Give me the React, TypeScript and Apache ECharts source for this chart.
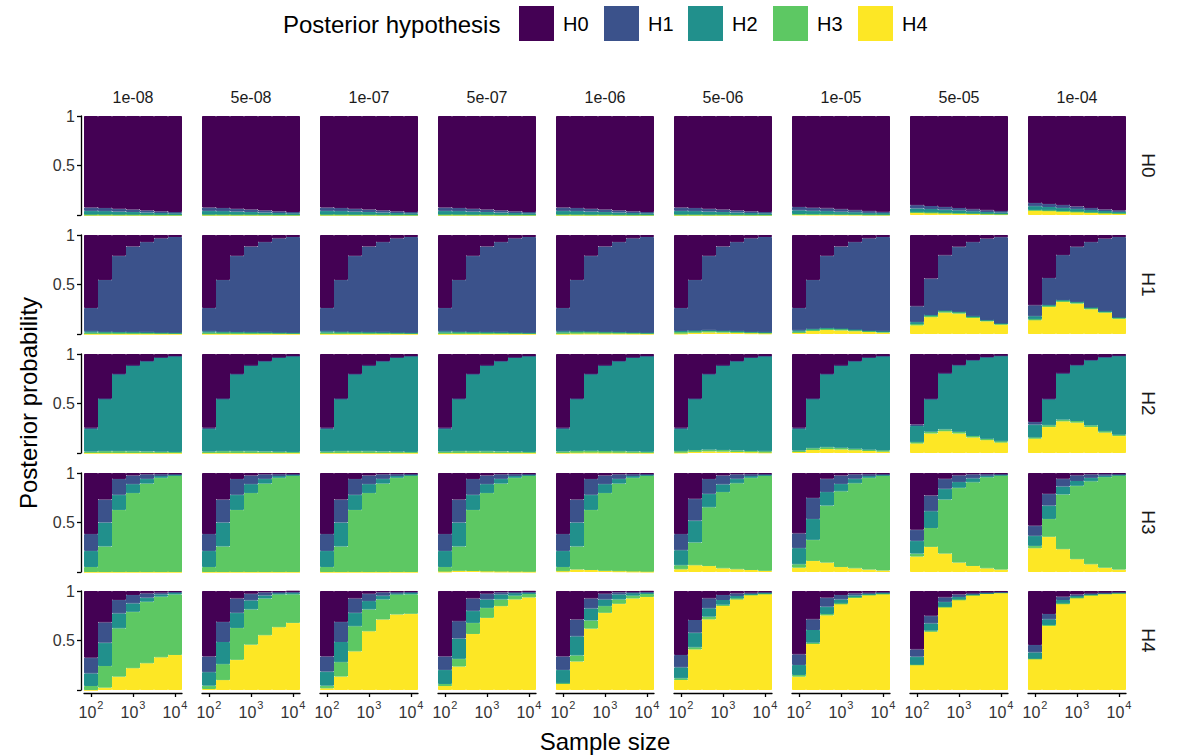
import React, { useEffect, useRef } from "react";
import * as echarts from "echarts";

// ---------- labels ----------
const priorLabels = ["1e-08", "5e-08", "1e-07", "5e-07", "1e-06", "5e-06", "1e-05", "5e-05", "1e-04"];
const trueHypotheses = ["H0", "H1", "H2", "H3", "H4"];
const posteriorHypotheses = ["H0", "H1", "H2", "H3", "H4"];
const sampleSizes = [100, 215, 464, 1000, 2154, 4642, 10000];
const xTickLog10 = [2, 3, 4];
const colors = ["#440154", "#3B528B", "#21908C", "#5DC863", "#FDE725"];

// ---------- data: [prior column][sample size] ----------
// true H0
const T0_H0 = [
  [.925, .930, .937, .945, .955, .964, .970],
  [.925, .930, .937, .945, .955, .964, .970],
  [.925, .930, .937, .945, .955, .964, .970],
  [.925, .930, .937, .945, .955, .964, .970],
  [.925, .930, .937, .945, .955, .964, .970],
  [.925, .930, .937, .945, .955, .964, .970],
  [.920, .926, .933, .942, .952, .962, .968],
  [.901, .909, .918, .929, .942, .953, .961],
  [.878, .888, .900, .914, .930, .944, .954],
];
const T0_H1 = Array.from({ length: 9 }, () => [.033, .031, .028, .024, .020, .016, .013]);
const T0_H2 = Array.from({ length: 9 }, () => [.037, .034, .031, .027, .022, .018, .015]);
const T0_H3 = Array.from({ length: 9 }, () => [.005, .005, .004, .004, .003, .002, .002]);
const T0_H4 = [
  [0, 0, 0, 0, 0, 0, 0],
  [0, 0, 0, 0, 0, 0, 0],
  [0, 0, 0, 0, 0, 0, 0],
  [0, 0, 0, 0, 0, 0, 0],
  [0, 0, 0, 0, 0, 0, 0],
  [0, 0, 0, 0, 0, 0, 0],
  [.005, .004, .004, .003, .003, .002, .002],
  [.024, .021, .019, .016, .013, .011, .009],
  [.047, .042, .037, .031, .025, .020, .016],
];

// true H1
const T1_H0 = [
  [.737, .454, .210, .116, .072, .034, .020],
  [.737, .454, .210, .116, .072, .034, .020],
  [.737, .454, .210, .116, .072, .034, .020],
  [.737, .454, .210, .116, .072, .034, .020],
  [.737, .454, .210, .116, .072, .034, .020],
  [.737, .454, .210, .116, .072, .034, .020],
  [.737, .454, .210, .116, .072, .034, .020],
  [.720, .440, .205, .118, .072, .036, .022],
  [.710, .435, .203, .118, .072, .036, .021],
];
const T1_H1 = [
  [.236, .523, .769, .865, .911, .952, .968],
  [.236, .523, .769, .865, .911, .952, .968],
  [.236, .523, .769, .865, .911, .952, .968],
  [.236, .523, .769, .865, .911, .952, .968],
  [.235, .520, .765, .862, .908, .950, .967],
  [.232, .511, .753, .851, .900, .944, .962],
  [.226, .493, .729, .829, .883, .932, .953],
  [.160, .368, .558, .657, .749, .822, .871],
  [.110, .271, .453, .557, .661, .734, .812],
];
const T1_H2 = [
  [.012, .005, .003, .002, .002, .001, .001],
  [.012, .005, .003, .002, .002, .001, .001],
  [.012, .005, .003, .002, .002, .001, .001],
  [.012, .005, .003, .002, .002, .001, .001],
  [.012, .005, .003, .002, .002, .001, .001],
  [.012, .005, .003, .002, .002, .001, .001],
  [.012, .005, .003, .002, .002, .001, .001],
  [.020, .004, .003, .002, .002, .001, .001],
  [.030, .004, .003, .002, .002, .001, .001],
];
const T1_H3 = [
  [.015, .018, .018, .017, .015, .013, .011],
  [.015, .018, .018, .017, .015, .013, .011],
  [.015, .018, .018, .017, .015, .013, .011],
  [.015, .018, .018, .017, .015, .013, .011],
  [.015, .018, .018, .017, .015, .013, .011],
  [.015, .018, .018, .017, .015, .013, .011],
  [.015, .018, .018, .017, .015, .013, .011],
  [.012, .018, .018, .017, .015, .013, .011],
  [.010, .016, .017, .016, .015, .013, .011],
];
const T1_H4 = [
  [0, 0, 0, 0, 0, 0, 0],
  [0, 0, 0, 0, 0, 0, 0],
  [0, 0, 0, 0, 0, 0, 0],
  [0, 0, 0, 0, 0, 0, 0],
  [.001, .003, .004, .003, .003, .002, .001],
  [.004, .012, .016, .014, .011, .008, .006],
  [.010, .030, .040, .036, .028, .020, .015],
  [.088, .170, .216, .206, .162, .128, .095],
  [.140, .274, .324, .307, .250, .216, .155],
];

// true H2
const T2_H0 = [
  [.745, .450, .200, .115, .070, .035, .020],
  [.745, .450, .200, .115, .070, .035, .020],
  [.745, .450, .200, .115, .070, .035, .020],
  [.745, .450, .200, .115, .070, .035, .020],
  [.745, .450, .200, .115, .070, .035, .020],
  [.745, .450, .200, .115, .070, .035, .020],
  [.745, .450, .200, .115, .070, .035, .020],
  [.712, .452, .194, .110, .060, .030, .017],
  [.686, .452, .194, .110, .060, .030, .017],
];
const T2_H1 = [
  [.012, .004, .003, .002, .002, .001, .001],
  [.012, .004, .003, .002, .002, .001, .001],
  [.012, .004, .003, .002, .002, .001, .001],
  [.012, .004, .003, .002, .002, .001, .001],
  [.012, .004, .003, .002, .002, .001, .001],
  [.012, .004, .003, .002, .002, .001, .001],
  [.012, .004, .003, .002, .002, .001, .001],
  [.015, .004, .003, .002, .002, .001, .001],
  [.027, .004, .003, .002, .002, .001, .001],
];
const T2_H2 = [
  [.229, .528, .779, .866, .913, .951, .968],
  [.229, .528, .779, .866, .913, .951, .968],
  [.229, .528, .779, .866, .913, .951, .968],
  [.229, .528, .779, .866, .913, .951, .968],
  [.228, .525, .775, .863, .910, .949, .967],
  [.225, .516, .763, .852, .902, .943, .962],
  [.219, .498, .739, .830, .885, .931, .953],
  [.164, .329, .565, .674, .766, .826, .864],
  [.130, .264, .466, .565, .659, .749, .797],
];
const T2_H3 = [
  [.014, .018, .018, .017, .015, .013, .011],
  [.014, .018, .018, .017, .015, .013, .011],
  [.014, .018, .018, .017, .015, .013, .011],
  [.014, .018, .018, .017, .015, .013, .011],
  [.014, .018, .018, .017, .015, .013, .011],
  [.014, .018, .018, .017, .015, .013, .011],
  [.014, .018, .018, .017, .015, .013, .011],
  [.012, .018, .018, .017, .015, .013, .011],
  [.010, .016, .017, .016, .015, .013, .011],
];
const T2_H4 = [
  [0, 0, 0, 0, 0, 0, 0],
  [0, 0, 0, 0, 0, 0, 0],
  [0, 0, 0, 0, 0, 0, 0],
  [0, 0, 0, 0, 0, 0, 0],
  [.001, .003, .004, .003, .003, .002, .001],
  [.004, .012, .016, .014, .011, .008, .006],
  [.010, .030, .040, .036, .028, .020, .015],
  [.097, .197, .220, .197, .157, .130, .107],
  [.147, .264, .320, .307, .264, .207, .174],
];

// true H3
const T3_H0 = [
  [.617, .268, .060, .025, .014, .012, .012],
  [.617, .268, .060, .025, .014, .012, .012],
  [.617, .268, .060, .025, .014, .012, .012],
  [.617, .268, .060, .025, .014, .012, .012],
  [.617, .268, .060, .025, .014, .012, .012],
  [.617, .260, .060, .025, .014, .012, .012],
  [.610, .251, .058, .025, .014, .012, .012],
  [.573, .227, .058, .024, .014, .012, .012],
  [.532, .210, .058, .024, .014, .012, .012],
];
const T3_H1 = [
  [.170, .232, .160, .088, .045, .018, .007],
  [.170, .232, .160, .088, .045, .018, .007],
  [.170, .232, .160, .088, .045, .018, .007],
  [.170, .232, .160, .088, .045, .018, .007],
  [.170, .232, .160, .088, .045, .018, .007],
  [.163, .221, .150, .090, .044, .018, .007],
  [.149, .213, .135, .085, .044, .018, .007],
  [.112, .159, .101, .068, .040, .016, .006],
  [.102, .119, .078, .057, .035, .015, .006],
];
const T3_H2 = [
  [.163, .242, .153, .090, .048, .018, .007],
  [.163, .242, .153, .090, .048, .018, .007],
  [.163, .242, .153, .090, .048, .018, .007],
  [.163, .242, .153, .090, .048, .018, .007],
  [.163, .242, .153, .090, .048, .018, .007],
  [.152, .221, .136, .078, .046, .018, .007],
  [.163, .211, .136, .075, .046, .018, .007],
  [.129, .170, .109, .057, .040, .016, .006],
  [.102, .135, .081, .048, .035, .015, .006],
];
const T3_H3 = [
  [.050, .258, .627, .797, .893, .952, .974],
  [.050, .258, .627, .797, .893, .952, .974],
  [.050, .258, .627, .797, .893, .952, .974],
  [.046, .246, .617, .791, .889, .949, .972],
  [.042, .233, .607, .785, .885, .947, .971],
  [.041, .230, .594, .770, .869, .932, .962],
  [.034, .213, .576, .765, .859, .928, .959],
  [.030, .190, .546, .756, .845, .919, .952],
  [.024, .180, .553, .742, .838, .914, .952],
];
const T3_H4 = [
  [0, 0, 0, 0, 0, 0, 0],
  [0, 0, 0, 0, 0, 0, 0],
  [0, 0, 0, 0, 0, 0, 0],
  [.004, .012, .010, .006, .004, .003, .002],
  [.008, .025, .020, .012, .008, .005, .003],
  [.027, .068, .060, .037, .027, .020, .012],
  [.044, .112, .095, .050, .037, .024, .015],
  [.156, .254, .186, .095, .061, .037, .024],
  [.240, .356, .230, .129, .078, .044, .024],
];

// true H4
const T4_H0 = [
  [.673, .317, .090, .040, .024, .017, .010],
  [.661, .312, .075, .027, .014, .012, .007],
  [.661, .312, .075, .027, .014, .012, .010],
  [.661, .305, .075, .027, .014, .012, .008],
  [.661, .288, .075, .027, .014, .012, .008],
  [.646, .293, .074, .040, .024, .017, .012],
  [.640, .286, .067, .040, .024, .017, .012],
  [.590, .250, .064, .035, .024, .014, .010],
  [.545, .232, .057, .035, .024, .017, .012],
];
const T4_H1 = [
  [.159, .205, .136, .085, .043, .017, .010],
  [.159, .203, .145, .068, .031, .010, .010],
  [.153, .203, .145, .075, .033, .012, .010],
  [.136, .175, .125, .058, .020, .010, .008],
  [.136, .170, .101, .058, .020, .010, .008],
  [.125, .128, .101, .051, .027, .010, .006],
  [.107, .108, .091, .045, .020, .010, .006],
  [.073, .077, .046, .025, .008, .005, .003],
  [.075, .054, .034, .016, .008, .005, .004],
];
const T4_H2 = [
  [.128, .236, .151, .085, .041, .023, .015],
  [.136, .224, .153, .091, .031, .012, .017],
  [.142, .204, .136, .084, .038, .010, .014],
  [.142, .205, .122, .085, .051, .025, .015],
  [.135, .193, .122, .068, .051, .025, .014],
  [.111, .148, .084, .047, .023, .008, .007],
  [.101, .128, .074, .040, .018, .009, .008],
  [.081, .073, .050, .025, .008, .005, .004],
  [.064, .057, .034, .015, .008, .005, .004],
];
const T4_H3 = [
  [.040, .218, .488, .570, .622, .613, .611],
  [.034, .161, .322, .356, .371, .332, .288],
  [.027, .145, .254, .221, .203, .203, .196],
  [.021, .078, .112, .101, .068, .038, .034],
  [.000, .061, .082, .067, .044, .028, .030],
  [.017, .021, .027, .012, .010, .005, .005],
  [.017, .013, .014, .006, .005, .004, .004],
  [.000, .010, .000, .005, .000, .000, .000],
  [.000, .007, .005, .004, .000, .000, .000],
];
const T4_H4 = [
  [.000, .024, .135, .220, .270, .330, .354],
  [.010, .100, .305, .458, .553, .634, .678],
  [.017, .136, .390, .593, .712, .763, .770],
  [.040, .237, .566, .729, .847, .915, .935],
  [.068, .288, .620, .780, .871, .925, .940],
  [.101, .410, .714, .850, .916, .960, .970],
  [.135, .465, .754, .869, .933, .960, .970],
  [.256, .590, .840, .910, .960, .976, .983],
  [.316, .650, .870, .930, .960, .973, .980],
];

const DATA = [
  [T0_H0, T0_H1, T0_H2, T0_H3, T0_H4],
  [T1_H0, T1_H1, T1_H2, T1_H3, T1_H4],
  [T2_H0, T2_H1, T2_H2, T2_H3, T2_H4],
  [T3_H0, T3_H1, T3_H2, T3_H3, T3_H4],
  [T4_H0, T4_H1, T4_H2, T4_H3, T4_H4],
];

// ---------- layout ----------
const ROW_TOP = [116, 235, 354, 473, 591];
const PANEL_H = 99;
const COL_LEFT0 = 84;
const COL_PITCH = 118;
const PANEL_W = 98;
const FONT = "'Liberation Sans', Arial, Helvetica, sans-serif";
const TXT = "#1a1a1a";
const AX = "#333333";

function buildOption() {
  const grid: any[] = [];
  const xAxis: any[] = [];
  const yAxis: any[] = [];
  const series: any[] = [];
  const graphic: any[] = [];

  for (let r = 0; r < 5; r++) {
    for (let c = 0; c < 9; c++) {
      const k = r * 9 + c;
      const left = COL_LEFT0 + c * COL_PITCH;
      const top = ROW_TOP[r];
      grid.push({ left, top, width: PANEL_W, height: PANEL_H, outerBoundsMode: "none", containLabel: false });
      xAxis.push({
        type: "category",
        gridIndex: k,
        data: sampleSizes.map(String),
        boundaryGap: true,
        show: false,
      });
      const bottomRow = r === 4;
      xAxis.push({
        type: "value",
        gridIndex: k,
        min: 11 / 6,
        max: 25 / 6,
        position: "bottom",
        offset: 3,
        show: bottomRow,
        axisLine: { show: true, lineStyle: { color: "#000", width: 1.3 } },
        axisTick: { show: true, customValues: xTickLog10, length: 4, lineStyle: { color: "#000", width: 1.3 } },
        axisLabel: {
          show: true,
          customValues: xTickLog10,
          margin: 6,
          formatter: (v: number) => `{b|10}{s|${Math.round(v)}}`,
          rich: {
            b: { fontSize: 16, fontFamily: FONT, color: AX, lineHeight: 21, verticalAlign: "bottom" },
            s: { fontSize: 11, fontFamily: FONT, color: AX, lineHeight: 21, verticalAlign: "top", padding: [0, 0, 0, 1] },
          },
        },
        splitLine: { show: false },
      });
      yAxis.push({
        type: "value",
        gridIndex: k,
        min: 0,
        max: 1,
        interval: 0.5,
        offset: 3,
        show: c === 0,
        axisLine: { show: true, lineStyle: { color: "#000", width: 1.3 } },
        axisTick: { show: true, length: 4, lineStyle: { color: "#000", width: 1.3 } },
        axisLabel: {
          margin: 6,
          fontSize: 16,
          fontFamily: FONT,
          color: AX,
          formatter: (v: number) => (v === 0 ? "" : v === 1 ? "1" : "0.5"),
        },
        splitLine: { show: false },
      });
      for (let h = 4; h >= 0; h--) {
        series.push({
          type: "bar",
          name: posteriorHypotheses[h],
          xAxisIndex: 2 * k,
          yAxisIndex: k,
          stack: "s" + k,
          data: DATA[r][h][c],
          barCategoryGap: "0%",
          barGap: "0%",
          silent: true,
          itemStyle: { color: colors[h], borderColor: colors[h], borderWidth: 1 },
        });
      }
      if (r === 0) {
        graphic.push({
          type: "text",
          x: left + PANEL_W / 2,
          y: 97,
          style: { text: priorLabels[c], fontSize: 16, fontFamily: FONT, fill: TXT, align: "center", verticalAlign: "middle" },
        });
      }
    }
    graphic.push({
      type: "text",
      x: 1148,
      y: ROW_TOP[r] + PANEL_H / 2,
      rotation: -Math.PI / 2,
      style: { text: trueHypotheses[r], fontSize: 19, fontFamily: FONT, fill: TXT, align: "center", verticalAlign: "middle" },
    });
  }

  // axis titles
  graphic.push({
    type: "text",
    x: 605,
    y: 741,
    style: { text: "Sample size", fontSize: 24, fontFamily: FONT, fill: "#000", align: "center", verticalAlign: "middle" },
  });
  graphic.push({
    type: "text",
    x: 28,
    y: 403,
    rotation: Math.PI / 2,
    style: { text: "Posterior probability", fontSize: 24, fontFamily: FONT, fill: "#000", align: "center", verticalAlign: "middle" },
  });

  // legend
  graphic.push({
    type: "text",
    x: 283,
    y: 24,
    style: { text: "Posterior hypothesis", fontSize: 24, fontFamily: FONT, fill: "#000", align: "left", verticalAlign: "middle" },
  });
  const swX = [519, 604, 688, 773, 858];
  posteriorHypotheses.forEach((h, i) => {
    graphic.push({ type: "rect", shape: { x: swX[i], y: 6, width: 35, height: 35 }, style: { fill: colors[i] } });
    graphic.push({
      type: "text",
      x: swX[i] + 44,
      y: 24,
      style: { text: h, fontSize: 20, fontFamily: FONT, fill: "#000", align: "left", verticalAlign: "middle" },
    });
  });

  return {
    animation: false,
    backgroundColor: "#ffffff",
    textStyle: { fontFamily: FONT },
    grid,
    xAxis,
    yAxis,
    series,
    graphic,
  };
}

export default function App() {
  const ref = useRef<HTMLDivElement>(null);
  useEffect(() => {
    document.body.style.margin = "0";
    if (!ref.current) return;
    const chart = echarts.init(ref.current, undefined, { renderer: "svg" });
    chart.setOption(buildOption() as any);
    return () => chart.dispose();
  }, []);
  return <div ref={ref} style={{ position: "fixed", left: 0, top: 0, width: 1177, height: 755 }} />;
}
